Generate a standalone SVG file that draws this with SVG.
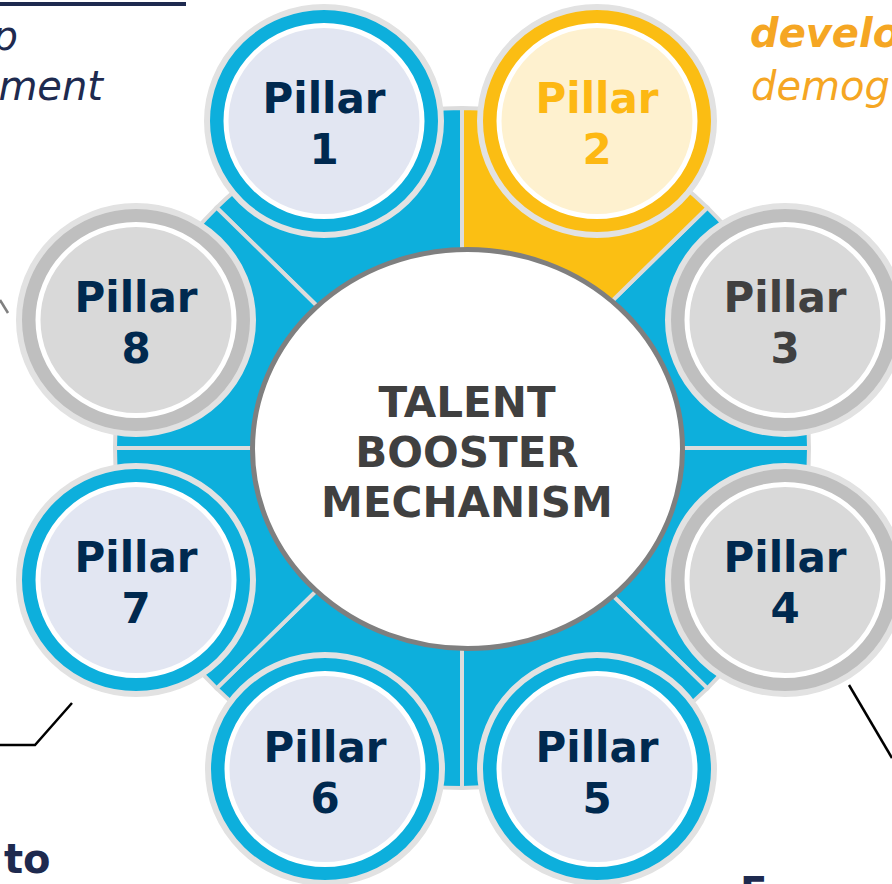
<svg xmlns="http://www.w3.org/2000/svg" width="892" height="884" viewBox="0 0 892 884">
<style>
.wedge{stroke:#DCDCDC;stroke-width:4;stroke-linejoin:miter}
.wb{fill:#0DAFDC}
.wy{fill:#FBBF13}
.ring{stroke:#E2E2E2;stroke-width:6}
.core{stroke:#FFFFFF;stroke-width:5}
.blue .ring{fill:#0DAFDC}
.blue .core{fill:#E2E6F2}
.gold .ring{fill:#FBBD13}
.gold .core{fill:#FEF1CF}
.gray .ring{fill:#BFBFBF}
.gray .core{fill:#D9D9D9}
.lbl{font-family:'DejaVu Sans',Verdana,sans-serif;font-weight:bold;font-size:42px;text-anchor:middle;fill:#00294F}
.gold .lbl{fill:#FDB813}
.dk .lbl{fill:#404040}
.side{font-family:'DejaVu Sans',Verdana,sans-serif;font-size:40px}
.navy{fill:#1E2A4F}
.orange{fill:#F5A623}
.conn{fill:none;stroke-width:2.5}
</style>
<g id="background">
<line x1="0" y1="4" x2="186" y2="4" stroke="#1E2A4F" stroke-width="4"/>
<text class="side navy" x="18" y="50" font-style="italic" text-anchor="end">p</text>
<text class="side navy" x="103" y="100" font-style="italic" text-anchor="end">ment</text>
<text class="side orange" x="750" y="47" font-style="italic" font-weight="bold">develo</text>
<text class="side orange" x="751" y="100" font-style="italic">demog</text>
<text class="side navy" x="4" y="873" font-weight="bold">to</text>
<text class="side navy" x="740" y="906" font-weight="bold">E</text>
</g>
<g id="connectors">
<line class="conn" x1="0" y1="300" x2="8" y2="313" stroke="#808080"/>
<polyline class="conn" points="0,745 35,745 72,703" stroke="#000000"/>
<line class="conn" x1="849" y1="685" x2="892" y2="758" stroke="#000000"/>
</g>
<g id="wedges">
<path class="wedge wb" d="M462,448 L216.6,207.6 A347,340 0 0 1 462,108 Z"/>
<path class="wedge wb" d="M462,448 L707.4,207.6 A347,340 0 0 1 809,448 Z"/>
<path class="wedge wb" d="M462,448 L809,448 A347,340 0 0 1 707.4,688.4 Z"/>
<path class="wedge wb" d="M462,448 L707.4,688.4 A347,340 0 0 1 462,788 Z"/>
<path class="wedge wb" d="M462,448 L462,788 A347,340 0 0 1 216.6,688.4 Z"/>
<path class="wedge wb" d="M462,448 L216.6,688.4 A347,340 0 0 1 115,448 Z"/>
<path class="wedge wb" d="M462,448 L115,448 A347,340 0 0 1 216.6,207.6 Z"/>
<path class="wedge wy" d="M462,448 L462,108 A347,340 0 0 1 707.4,207.6 Z"/>
</g>
<g id="center">
<ellipse cx="467.5" cy="449" rx="215" ry="199.5" fill="#FFFFFF" stroke="#7F7F7F" stroke-width="5"/>
<text class="lbl" x="467" y="417" style="fill:#404040">TALENT</text>
<text class="lbl" x="467" y="467" style="fill:#404040">BOOSTER</text>
<text class="lbl" x="467" y="517" style="fill:#404040">MECHANISM</text>
</g>
<g id="pillar-1" class="blue">
<ellipse class="ring" cx="324" cy="121" rx="117" ry="114"/>
<ellipse class="core" cx="324" cy="121" rx="98" ry="95.5"/>
<text class="lbl" x="324" y="113">Pillar</text>
<text class="lbl" x="324" y="164">1</text>
</g>
<g id="pillar-2" class="gold">
<ellipse class="ring" cx="597" cy="121" rx="117" ry="114"/>
<ellipse class="core" cx="597" cy="121" rx="98" ry="95.5"/>
<text class="lbl" x="597" y="113">Pillar</text>
<text class="lbl" x="597" y="164">2</text>
</g>
<g id="pillar-3" class="gray dk">
<ellipse class="ring" cx="785" cy="320" rx="117" ry="114"/>
<ellipse class="core" cx="785" cy="320" rx="98" ry="95.5"/>
<text class="lbl" x="785" y="312">Pillar</text>
<text class="lbl" x="785" y="363">3</text>
</g>
<g id="pillar-4" class="gray">
<ellipse class="ring" cx="785" cy="580" rx="117" ry="114"/>
<ellipse class="core" cx="785" cy="580" rx="98" ry="95.5"/>
<text class="lbl" x="785" y="572">Pillar</text>
<text class="lbl" x="785" y="623">4</text>
</g>
<g id="pillar-5" class="blue">
<ellipse class="ring" cx="597" cy="769" rx="117" ry="114"/>
<ellipse class="core" cx="597" cy="769" rx="98" ry="95.5"/>
<text class="lbl" x="597" y="762">Pillar</text>
<text class="lbl" x="597" y="813">5</text>
</g>
<g id="pillar-6" class="blue">
<ellipse class="ring" cx="325" cy="769" rx="117" ry="114"/>
<ellipse class="core" cx="325" cy="769" rx="98" ry="95.5"/>
<text class="lbl" x="325" y="762">Pillar</text>
<text class="lbl" x="325" y="813">6</text>
</g>
<g id="pillar-7" class="blue">
<ellipse class="ring" cx="136" cy="580" rx="117" ry="114"/>
<ellipse class="core" cx="136" cy="580" rx="98" ry="95.5"/>
<text class="lbl" x="136" y="572">Pillar</text>
<text class="lbl" x="136" y="623">7</text>
</g>
<g id="pillar-8" class="gray">
<ellipse class="ring" cx="136" cy="320" rx="117" ry="114"/>
<ellipse class="core" cx="136" cy="320" rx="98" ry="95.5"/>
<text class="lbl" x="136" y="312">Pillar</text>
<text class="lbl" x="136" y="363">8</text>
</g>
</svg>
